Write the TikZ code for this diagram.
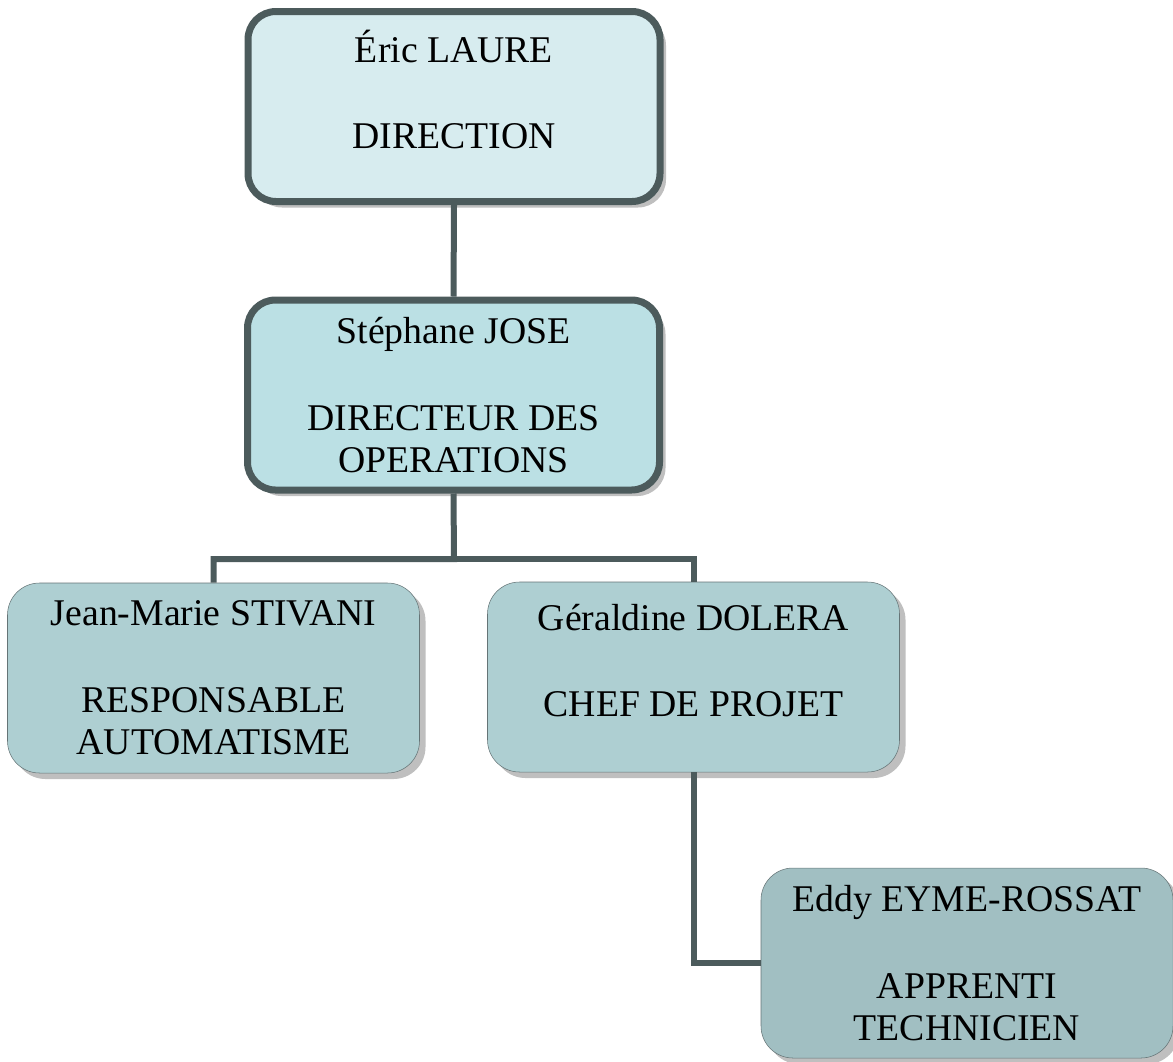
\documentclass[tikz,border=0pt]{standalone}
\usepackage{fontspec}
\setmainfont{Liberation Serif}
\usepackage{tikz}
\usepackage{xcolor}
\usetikzlibrary{shadows}
\definecolor{line-grey}{HTML}{4C5B5C}
\definecolor{edge-grey}{HTML}{657476}
\definecolor{fill-one}{HTML}{D7ECEF}
\definecolor{fill-two}{HTML}{BBE0E4}
\definecolor{fill-three}{HTML}{AECFD2}
\definecolor{fill-four}{HTML}{A1BFC2}
\tikzset{
    org-box/.style = {draw=edge-grey, thin, rectangle, rounded corners=24pt, align=center,
        minimum width=309pt, minimum height=142.5pt, inner sep=0pt,
        font=\fontsize{28.3}{31.5}\selectfont,
        drop shadow={shadow xshift=4.5pt, shadow yshift=-4.5pt, fill=black!25, opacity=1}},
    org-box-head/.style = {org-box, draw=line-grey, line width=5.25pt, rounded corners=21pt},
    org-link/.style = {draw=line-grey, line width=4.5pt},
}

\begin{document}
\begin{tikzpicture}[x=0.75pt, y=-0.75pt]
\useasboundingbox (0,0) rectangle (1173,1061);
\node [org-box-head, fill=fill-one] (laure) at (454,106.5) {Éric LAURE\\[33pt]DIRECTION\\[-6pt]\mbox{}};
\node [org-box-head, fill=fill-two] (jose) at (453.5,395) {Stéphane JOSE\\[33.5pt]DIRECTEUR DES\\OPERATIONS};
\node [org-box, fill=fill-three] (stivani) at (213.5,678) {Jean-Marie STIVANI\\[33.5pt]RESPONSABLE\\AUTOMATISME};
\node [org-box, fill=fill-three] (dolera) at (693.5,677) {Géraldine DOLERA\\[33pt]CHEF DE PROJET\\[-6pt]\mbox{}};
\node [org-box, fill=fill-four] (eyme) at (967,963) {Eddy EYME-ROSSAT\\[33.5pt]APPRENTI\\TECHNICIEN};

% links
\coordinate (branch) at (454,559);
\draw [org-link] (laure.south) -- (jose.north);
\draw [org-link] (jose.south) -- (branch) -| (stivani.north);
\draw [org-link] (branch) -| (dolera.north);
\draw [org-link] (dolera.south) |- (eyme.west);
\end{tikzpicture}
\end{document}
